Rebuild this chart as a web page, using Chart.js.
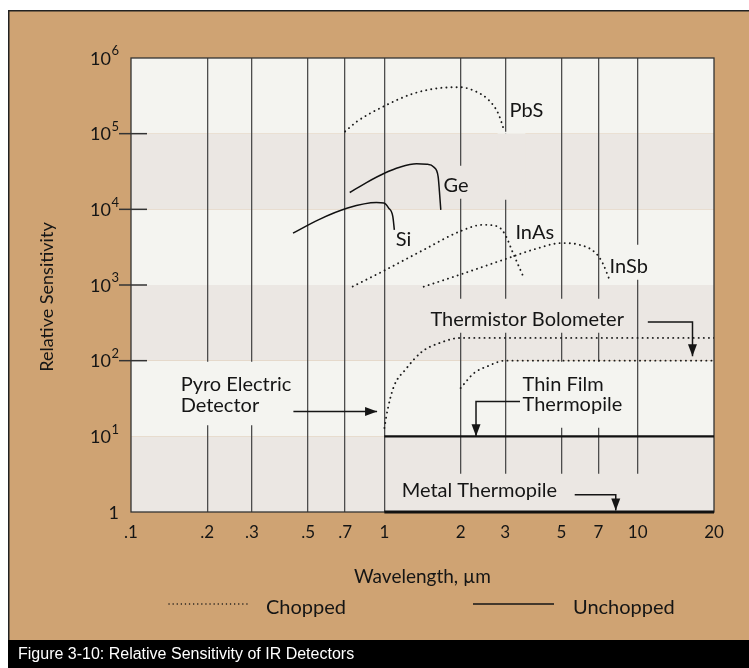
<!DOCTYPE html>
<html>
<head>
<meta charset="utf-8">
<title>Relative Sensitivity of IR Detectors</title>
<script src="https://cdn.jsdelivr.net/npm/chart.js@4.4.0/dist/chart.umd.min.js"></script>
<style>
  html, body { margin: 0; padding: 0; background: #fff; }
  #wrap { width: 749px; height: 668px; }
</style>
</head>
<body>
<div id="wrap"><canvas id="irChart" width="749" height="668"></canvas></div>
<script>
'use strict';

// Axis ticks and labels.
const xTicks = [0.1, 0.2, 0.3, 0.5, 0.7, 1, 2, 3, 5, 7, 10, 20];
const xTickLabels = ['.1', '.2', '.3', '.5', '.7', '1', '2', '3', '5', '7', '10', '20'];
const yTicks = [1, 10, 100, 1000, 10000, 100000, 1000000];
const yTickBase = ['1', '10', '10', '10', '10', '10', '10'];
const yTickPower = ['', '1', '2', '3', '4', '5', '6'];
const yTickMarks = [100, 1000, 10000, 100000]; // the short dashes next to 10^2..10^5

// Chopped detectors (dotted). Wavelength in um, relative sensitivity.
const pbsWave = [0.70, 0.78, 0.99, 1.29, 1.63, 1.99, 2.30, 2.58, 2.81, 2.98];
const pbsSens = [1.07e5, 1.45e5, 2.28e5, 3.36e5, 3.99e5, 4.11e5, 3.6e5, 2.79e5, 1.87e5, 1.07e5];

const inasWave = [0.75, 1.0, 1.43, 1.98, 2.45, 2.8, 3.0, 3.22, 3.51];
const inasSens = [955, 1555, 2917, 5090, 6240, 5930, 4605, 2640, 1364];

const insbWave = [1.43, 1.98, 3.0, 3.93, 5.0, 5.89, 6.83, 7.27, 7.74];
const insbSens = [950, 1364, 2198, 2980, 3580, 3400, 2640, 1946, 1170];

const pyroWave = [1.0, 1.03, 1.09, 1.21, 1.41, 1.65, 2.0, 20];
const pyroSens = [12.9, 22.5, 45.6, 75.9, 132, 171, 200, 200];

const bolometerWave = [2.0, 2.26, 2.54, 3.0, 20];
const bolometerSens = [43.5, 68.6, 83.8, 100, 100];

// Unchopped detectors (solid).
const siWave = [0.436, 0.549, 0.716, 0.93, 0.995, 1.04, 1.08, 1.095];
const siSens = [4850, 7270, 10400, 12300, 12100, 10400, 8000, 5360];

const geWave = [0.73, 0.85, 1.0, 1.15, 1.34, 1.47, 1.57, 1.63, 1.65, 1.67];
const geSens = [16700, 22600, 30000, 36000, 39900, 39500, 36000, 27100, 17000, 9850];

const thinFilmWave = [1, 20];
const thinFilmSens = [10, 10];

const metalWave = [1, 20];
const metalSens = [1, 1];

// Colours and fonts.
const tan = '#cfa373';
const bandLight = '#f4f4f0';
const bandDark = '#ebe7e3';
const ink = '#151515';
const FONT = 'Lato, "Open Sans", sans-serif';

function toPoints(wave, sens) {
  return wave.map((w, i) => ({x: w, y: sens[i]}));
}

function chopped(label, wave, sens) {
  return {
    label: label,
    data: toPoints(wave, sens),
    borderColor: '#1a1a1a',
    borderWidth: 1.9,
    borderDash: [0.1, 5],
    borderCapStyle: 'round',
    pointRadius: 0,
    cubicInterpolationMode: 'monotone',
    fill: false,
  };
}

function unchopped(label, wave, sens, width) {
  return {
    label: label,
    data: toPoints(wave, sens),
    borderColor: '#111',
    borderWidth: width || 1.5,
    pointRadius: 0,
    cubicInterpolationMode: 'monotone',
    fill: false,
    clip: 4,
  };
}

// Curve labels, in data coordinates (wavelength, sensitivity).
const curveLabels = [
  {text: 'PbS', x: 3.12, y: 2.0e5},
  {text: 'Ge', x: 1.71, y: 2.04e4},
  {text: 'Si', x: 1.11, y: 3955},
  {text: 'InAs', x: 3.29, y: 4895},
  {text: 'InSb', x: 7.74, y: 1755},
  {text: 'Thermistor Bolometer', x: 1.52, y: 347},
  {text: 'Pyro Electric', x: 0.157, y: 48},
  {text: 'Detector', x: 0.157, y: 25.4},
  {text: 'Thin Film', x: 3.51, y: 48},
  {text: 'Thermopile', x: 3.51, y: 26},
  {text: 'Metal Thermopile', x: 1.17, y: 1.93},
];

// Pointer arrows, in data coordinates; the last point is the arrow tip.
const arrows = [
  [[0.4375, 21.3], [0.936, 21.3]],
  [[10.96, 324], [16.45, 324], [16.45, 114]],
  [[3.43, 28.9], [2.30, 28.9], [2.30, 10]],
  [[5.64, 1.69], [8.19, 1.69], [8.19, 1.05]],
];

// Plain boxes behind the labels, these break the vertical grid lines.
const labelBoxes = [
  {x1: 1.63, x2: 2.05, y1: 1.38e4, y2: 3.76e4},
  {x1: 2.8, x2: 3.6, y1: 1.34e4, y2: 1.06e5},
  {x1: 7.2, x2: 11.3, y1: 1170, y2: 3400},
  {x1: 1.4, x2: 9.6, y1: 234, y2: 657},
  {x1: 3.4, x2: 9.0, y1: 13, y2: 97},
  {x1: 0.15, x2: 0.42, y1: 14, y2: 97},
  {x1: 1.02, x2: 20, y1: 1, y2: 3.2},
];

function drawBands(chart) {
  const {ctx, chartArea, scales: {y}} = chart;
  for (let i = 0; i < yTicks.length - 1; i++) {
    const top = y.getPixelForValue(yTicks[i + 1]);
    const bottom = y.getPixelForValue(yTicks[i]);
    ctx.fillStyle = i % 2 === 0 ? bandDark : bandLight;
    ctx.fillRect(chartArea.left, top, chartArea.right - chartArea.left, bottom - top);
  }
}

const framePlugin = {
  id: 'frame',
  beforeDraw(chart) {
    const ctx = chart.ctx;
    ctx.save();
    ctx.fillStyle = '#fff';
    ctx.fillRect(0, 0, chart.width, chart.height);
    ctx.fillStyle = tan;
    ctx.fillRect(8, 10, chart.width - 8, 630);
    ctx.strokeStyle = '#222';
    ctx.lineWidth = 1.5;
    ctx.strokeRect(8.75, 10.75, chart.width, 640);
    ctx.fillStyle = '#000';
    ctx.fillRect(8, 640, chart.width - 8, 28);
    ctx.fillStyle = '#fff';
    ctx.font = '16px "Liberation Sans Narrow", "Arial Narrow", sans-serif';
    ctx.textBaseline = 'middle';
    ctx.fillText('Figure 3-10: Relative Sensitivity of IR Detectors', 18, 655);
    drawBands(chart);
    ctx.restore();
  },
  beforeDatasetsDraw(chart) {
    const {ctx, chartArea, scales: {x, y}} = chart;
    ctx.save();
    // Label boxes repaint the bands so the grid lines stop there.
    labelBoxes.forEach(b => {
      const left = x.getPixelForValue(b.x1);
      const right = x.getPixelForValue(b.x2);
      const top = y.getPixelForValue(b.y2);
      const bottom = y.getPixelForValue(b.y1);
      ctx.save();
      ctx.beginPath();
      ctx.rect(left, top, right - left, bottom - top);
      ctx.clip();
      drawBands(chart);
      ctx.restore();
    });
    ctx.strokeStyle = '#333';
    ctx.lineWidth = 1.3;
    ctx.strokeRect(chartArea.left, chartArea.top, chartArea.right - chartArea.left, chartArea.bottom - chartArea.top);
    ctx.lineWidth = 1.5;
    yTickMarks.forEach(v => {
      const py = y.getPixelForValue(v);
      ctx.beginPath();
      ctx.moveTo(chartArea.left - 12, py);
      ctx.lineTo(chartArea.left + 16, py);
      ctx.stroke();
    });
    ctx.restore();
  },
  afterDatasetsDraw(chart) {
    const {ctx, scales: {x, y}} = chart;
    ctx.save();
    ctx.fillStyle = ink;
    ctx.font = '20px ' + FONT;
    ctx.textBaseline = 'middle';
    ctx.textAlign = 'left';
    curveLabels.forEach(l => {
      ctx.fillText(l.text, x.getPixelForValue(l.x), y.getPixelForValue(l.y));
    });

    ctx.strokeStyle = ink;
    ctx.lineWidth = 1.5;
    arrows.forEach(pts => {
      const p = pts.map(pt => [x.getPixelForValue(pt[0]), y.getPixelForValue(pt[1])]);
      ctx.beginPath();
      ctx.moveTo(p[0][0], p[0][1]);
      for (let i = 1; i < p.length; i++) {
        ctx.lineTo(p[i][0], p[i][1]);
      }
      ctx.stroke();
      // Arrow head.
      const tip = p[p.length - 1];
      const prev = p[p.length - 2];
      const ang = Math.atan2(tip[1] - prev[1], tip[0] - prev[0]);
      const len = 12, half = 4.5;
      ctx.beginPath();
      ctx.moveTo(tip[0], tip[1]);
      ctx.lineTo(tip[0] - len * Math.cos(ang) + half * Math.sin(ang), tip[1] - len * Math.sin(ang) - half * Math.cos(ang));
      ctx.lineTo(tip[0] - len * Math.cos(ang) - half * Math.sin(ang), tip[1] - len * Math.sin(ang) + half * Math.cos(ang));
      ctx.closePath();
      ctx.fill();
    });
    ctx.restore();
  },
  afterDraw(chart) {
    const {ctx, chartArea, scales: {y}} = chart;
    ctx.save();
    ctx.fillStyle = ink;
    ctx.textBaseline = 'middle';

    // Y tick labels, drawn here so the powers of ten get a real superscript.
    ctx.textAlign = 'right';
    yTicks.forEach((v, i) => {
      const py = y.getPixelForValue(v);
      let right = chartArea.left - 12;
      if (yTickPower[i]) {
        ctx.font = '13px ' + FONT;
        ctx.fillText(yTickPower[i], right, py - 7);
        right -= ctx.measureText(yTickPower[i]).width + 0.5;
      }
      ctx.font = '18px ' + FONT;
      ctx.fillText(yTickBase[i], right, py + 1);
    });

    // Axis titles.
    ctx.textAlign = 'center';
    ctx.font = '19px ' + FONT;
    ctx.fillText('Wavelength, \u00B5m', (chartArea.left + chartArea.right) / 2, 577);
    ctx.save();
    ctx.translate(47, 297);
    ctx.rotate(-Math.PI / 2);
    ctx.font = '18px ' + FONT;
    ctx.fillText('Relative Sensitivity', 0, 0);
    ctx.restore();

    // Legend.
    ctx.textAlign = 'left';
    ctx.font = '20px ' + FONT;
    ctx.fillText('Chopped', 266, 608);
    ctx.fillText('Unchopped', 573, 608);
    ctx.strokeStyle = ink;
    ctx.lineCap = 'round';
    ctx.lineWidth = 1.4;
    ctx.setLineDash([0.1, 4]);
    ctx.beginPath();
    ctx.moveTo(169, 604);
    ctx.lineTo(248, 604);
    ctx.stroke();
    ctx.setLineDash([]);
    ctx.lineCap = 'butt';
    ctx.lineWidth = 1.3;
    ctx.beginPath();
    ctx.moveTo(473, 604);
    ctx.lineTo(554, 604);
    ctx.stroke();
    ctx.restore();
  },
};

const data = {
  datasets: [
    chopped('PbS', pbsWave, pbsSens),
    chopped('InAs', inasWave, inasSens),
    chopped('InSb', insbWave, insbSens),
    chopped('Pyro Electric Detector', pyroWave, pyroSens),
    chopped('Thermistor Bolometer', bolometerWave, bolometerSens),
    unchopped('Si', siWave, siSens),
    unchopped('Ge', geWave, geSens),
    unchopped('Thin Film Thermopile', thinFilmWave, thinFilmSens, 2.2),
    unchopped('Metal Thermopile', metalWave, metalSens, 3.2),
  ]
};

const config = {
  type: 'line',
  data: data,
  options: {
    responsive: false,
    animation: false,
    layout: {padding: {left: 0, right: 35, top: 58, bottom: 0}},
    plugins: {
      legend: {display: false},
      tooltip: {enabled: false},
    },
    scales: {
      x: {
        type: 'logarithmic',
        min: 0.1,
        max: 20,
        afterBuildTicks: scale => { scale.ticks = xTicks.map(v => ({value: v})); },
        afterFit: scale => { scale.height = 156; },
        ticks: {
          autoSkip: false,
          maxRotation: 0,
          padding: 10,
          color: ink,
          font: {family: FONT, size: 17},
          callback: value => xTickLabels[xTicks.indexOf(value)],
        },
        grid: {
          drawTicks: false,
          lineWidth: 1.3,
          color: c => (c.tick && (c.tick.value === 0.1 || c.tick.value === 20)) ? 'rgba(0,0,0,0)' : '#4d4d4d',
        },
        border: {display: false},
      },
      y: {
        type: 'logarithmic',
        min: 1,
        max: 1000000,
        afterBuildTicks: scale => { scale.ticks = yTicks.map(v => ({value: v})); },
        afterFit: scale => { scale.width = 131; },
        ticks: {display: false},
        grid: {display: false, drawTicks: false},
        border: {display: false},
      },
    },
  },
  plugins: [framePlugin],
};

const irChart = new Chart(document.getElementById('irChart'), config);
</script>
</body>
</html>
